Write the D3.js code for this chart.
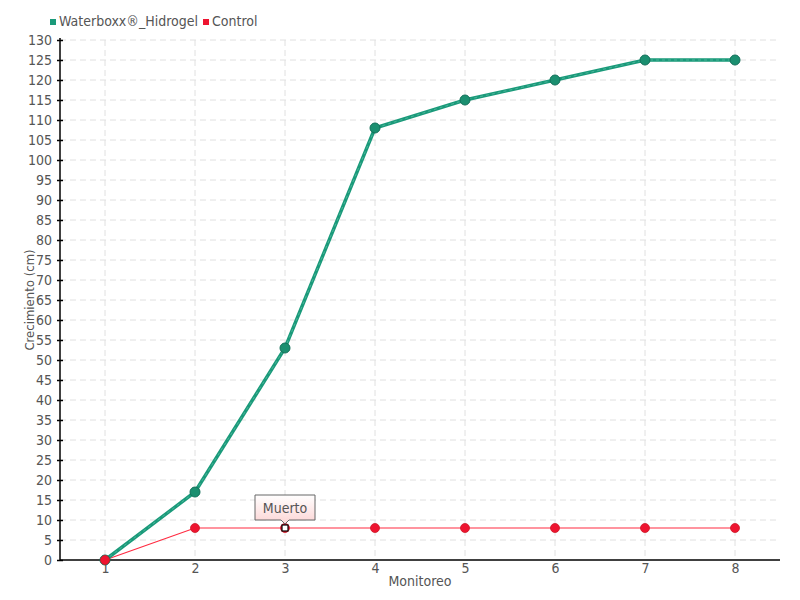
<!DOCTYPE html>
<html><head><meta charset="utf-8">
<script src="https://cdn.jsdelivr.net/npm/d3@7"></script>
<style>
body{margin:0;background:#fff;}
text{font-family:"DejaVu Sans Condensed","Liberation Sans Narrow",sans-serif;font-stretch:condensed;fill:#555;}
</style></head>
<body><svg id="c" width="800" height="600"></svg>
<script>
const categories = [1,2,3,4,5,6,7,8];
const waterboxx = [0,17,53,108,115,120,125,125];
const control = [0,8,8,8,8,8,8,8];
const yTicks = d3.range(0,131,5);
const seriesNames = ["Waterboxx®_Hidrogel","Control"];
const deadIndex = 2;
const deadLabel = "Muerto";

const svg = d3.select("#c");
const L=60,R=780,T=40,B=560;
const x = d3.scalePoint().domain(categories).range([L,R]).padding(0.5);
const y = d3.scaleLinear().domain([0,130]).range([B,T]);

const defs = svg.append("defs");
const g1 = defs.append("linearGradient").attr("id","tip").attr("x1",0).attr("y1",0).attr("x2",0).attr("y2",1);
g1.append("stop").attr("offset","0%").attr("stop-color","#ffffff");
g1.append("stop").attr("offset","100%").attr("stop-color","#fcd4d4");

// grid
const grid = svg.append("g");
grid.selectAll("line.h").data(yTicks.filter(d=>d>0)).join("line")
  .attr("x1",L).attr("x2",R).attr("y1",d=>y(d)).attr("y2",d=>y(d))
  .attr("stroke","#e0e0e0").attr("stroke-dasharray","6,4");
grid.selectAll("line.v").data(categories).join("line")
  .attr("x1",d=>x(d)).attr("x2",d=>x(d)).attr("y1",T).attr("y2",B)
  .attr("stroke","#e0e0e0").attr("stroke-dasharray","6,4");

// axes
const ya = svg.append("g").attr("transform",`translate(${L},0)`)
  .call(d3.axisLeft(y).tickValues(yTicks).tickSize(3).tickPadding(5));
ya.selectAll(".tick line").attr("x2",3).attr("x1",-3);
const xa = svg.append("g").attr("transform",`translate(0,${B})`)
  .call(d3.axisBottom(x).tickSize(0).tickPadding(3));
[ya,xa].forEach(a=>{
  a.select(".domain").attr("stroke","#000").attr("stroke-width",1.5);
  a.selectAll(".tick line").attr("stroke","#000").attr("stroke-width",1.5);
  a.selectAll("text").style("font-size","14px").attr("fill","#555");
});
ya.select(".domain").attr("d",`M0,${B}V${T-2}`);
xa.select(".domain").attr("d",`M${L},0H${R}`);

// lines
const line = d3.line().x((d,i)=>x(categories[i])).y(d=>y(d));
svg.append("path").datum(control).attr("d",line).attr("fill","none").attr("stroke","#ff2a40").attr("stroke-width",1.2);
svg.append("path").datum(waterboxx).attr("d",line).attr("fill","none").attr("stroke","#1a9a7a").attr("stroke-width",3.5);
svg.append("path").datum(waterboxx).attr("d",line).attr("fill","none").attr("stroke","#7fd0bb").attr("stroke-width",0.8).attr("stroke-dasharray","3,3").attr("opacity",0.6);

svg.selectAll("circle.w").data(waterboxx).join("circle")
  .attr("cx",(d,i)=>x(categories[i])).attr("cy",d=>y(d)).attr("r",5)
  .attr("fill","#1b8f70").attr("stroke","#13705a").attr("stroke-width",1);
svg.selectAll("circle.c").data(control).join("circle")
  .attr("cx",(d,i)=>x(categories[i])).attr("cy",d=>y(d)).attr("r",4.5)
  .attr("fill","#ee1430").attr("stroke","#cc1a2a").attr("stroke-width",0.8);

// dead marker
const dx = x(categories[deadIndex]), dy = y(control[deadIndex]);
svg.append("rect").attr("x",dx-3).attr("y",dy-3).attr("width",6).attr("height",6)
  .attr("fill","#fff").attr("stroke","#000").attr("stroke-width",1.2);

// annotation
const bw=60,bh=25,by=dy-33;
svg.append("path")
  .attr("d",`M${dx-bw/2},${by}H${dx+bw/2}V${by+bh}H${dx+4}L${dx},${by+bh+4}L${dx-4},${by+bh}H${dx-bw/2}Z`)
  .attr("fill","url(#tip)").attr("stroke","#666").attr("stroke-width",1);
svg.append("text").attr("x",dx).attr("y",by+bh/2+5).attr("text-anchor","middle")
  .style("font-size","14px").attr("fill","#555").text(deadLabel);

// axis titles
svg.append("text").attr("transform",`translate(34,${(T+B)/2}) rotate(-90)`).attr("text-anchor","middle")
  .style("font-size","13px").text("Crecimiento (cm)");
svg.append("text").attr("x",(L+R)/2).attr("y",586).attr("text-anchor","middle")
  .style("font-size","14px").text("Monitoreo");

// legend
const colors=["#1a9a7a","#ee1430"];
const lg = svg.append("g");
let lx=50;
seriesNames.forEach((n,i)=>{
  lg.append("rect").attr("x",lx).attr("y",19).attr("width",6).attr("height",6).attr("fill",colors[i]);
  const t=lg.append("text").attr("x",lx+9).attr("y",26).style("font-size","14px").attr("fill","#555").text(n);
  lx += 9 + t.node().getComputedTextLength() + 5;
});
</script></body></html>
